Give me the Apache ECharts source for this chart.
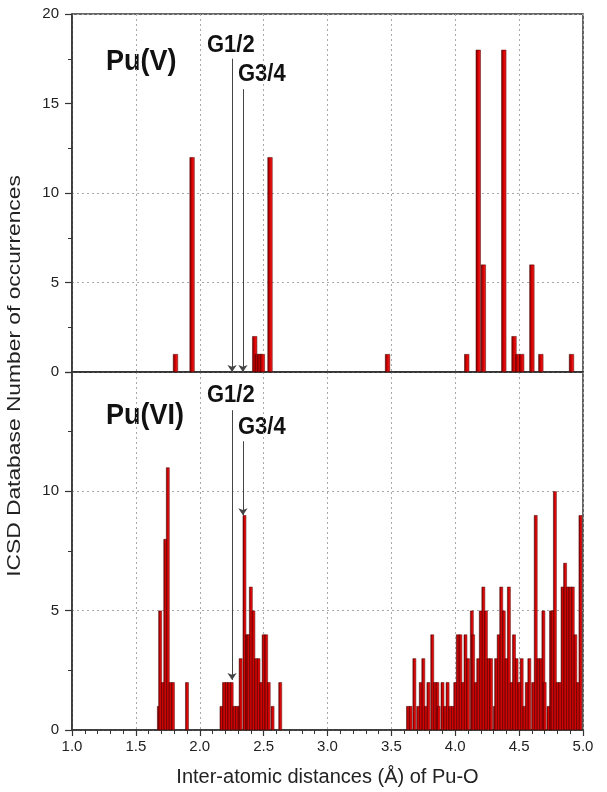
<!DOCTYPE html>
<html>
<head>
<meta charset="utf-8">
<script src="https://cdn.jsdelivr.net/npm/echarts@6/dist/echarts.min.js"></script>
<style>
  html, body { margin: 0; padding: 0; background: #fff; }
  #chart { width: 607px; height: 792px; }
</style>
</head>
<body>
<div id="chart"></div>
<script>
var dom = document.getElementById("chart");
var myChart = echarts.init(dom);

// Pu(V) histogram: bin centre (A) and count
var puVDist = [1.81, 1.94, 2.43, 2.45, 2.47, 2.49, 2.55, 3.47, 4.09, 4.18, 4.22, 4.38, 4.46, 4.49, 4.52, 4.60, 4.67, 4.91];
var puVCount = [1, 12, 2, 1, 1, 1, 12, 1, 1, 18, 6, 18, 2, 1, 1, 6, 1, 1];

// Pu(VI) histogram
var puVIDist = [
    1.68, 1.69, 1.71, 1.73, 1.75, 1.77, 1.79, 1.90,
    2.17, 2.19, 2.21, 2.23, 2.25, 2.27, 2.29, 2.31, 2.32, 2.35, 2.37, 2.38, 2.40, 2.42, 2.44, 2.46, 2.48, 2.50, 2.52, 2.54, 2.57, 2.63,
    3.63, 3.65, 3.68, 3.71, 3.73, 3.75, 3.77, 3.79, 3.82, 3.84, 3.86, 3.87, 3.90, 3.92, 3.94, 3.96, 3.98,
    4.00, 4.02, 4.04, 4.06, 4.08, 4.10, 4.13, 4.14, 4.16, 4.18, 4.20, 4.22, 4.24, 4.26, 4.28, 4.31, 4.32, 4.34, 4.36, 4.38,
    4.40, 4.42, 4.44, 4.46, 4.48, 4.50, 4.52, 4.54, 4.56, 4.58, 4.61, 4.63, 4.65, 4.67, 4.69, 4.70, 4.73, 4.75, 4.76, 4.78,
    4.80, 4.82, 4.84, 4.86, 4.88, 4.90, 4.92, 4.94, 4.96, 4.98
];
var puVICount = [
    1, 5, 2, 8, 11, 2, 2, 2,
    1, 2, 2, 2, 2, 1, 1, 1, 3, 9, 4, 4, 6, 5, 3, 3, 2, 4, 4, 2, 1, 2,
    1, 1, 3, 1, 2, 3, 1, 2, 4, 2, 2, 1, 2, 1, 2, 1, 1,
    2, 4, 4, 2, 4, 3, 5, 4, 2, 3, 5, 6, 5, 3, 3, 1, 3, 4, 6, 5,
    3, 6, 2, 4, 3, 2, 3, 1, 2, 3, 2, 9, 3, 3, 5, 2, 1, 5, 5, 10,
    2, 2, 6, 7, 6, 6, 6, 4, 2, 9
];

var xTicks = { min: 1.0, max: 5.0, interval: 0.5 };
var yTopTicks = { min: 0, max: 20, interval: 5 };
var yBotTicks = { min: 0, max: 15, interval: 5 };

// G1/2, G3/4 arrows: [x, yStart, yEnd]
var arrowsTop = [[2.253, 17.5, 0], [2.338, 15.8, 0]];
var arrowsBot = [[2.253, 13.4, 2.1], [2.338, 12.1, 9.0]];

function pairs(xs, ys) {
    var out = [];
    for (var i = 0; i < xs.length; i++) {
        out.push([xs[i], ys[i]]);
    }
    return out;
}

function arrowLines(list) {
    return list.map(function (a) {
        return [{ coord: [a[0], a[1]] }, { coord: [a[0], a[2]] }];
    });
}

var barColor = new echarts.graphic.LinearGradient(0, 0, 1, 0, [
    { offset: 0, color: "#6a0000" },
    { offset: 0.45, color: "#d00000" },
    { offset: 1, color: "#ff2424" }
]);

var tickFont = { fontFamily: "Liberation Sans", fontSize: 15, color: "#222" };
var dotColor = "#a8a8a8";

function xAxisCfg(idx, showLabels) {
    return {
        type: "value",
        gridIndex: idx,
        min: xTicks.min,
        max: xTicks.max,
        interval: xTicks.interval,
        axisLine: { show: true, onZero: false, lineStyle: { color: "#333", width: 1.5 } },
        axisTick: { show: showLabels, length: 6, lineStyle: { color: "#333", width: 1.2 } },
        minorTick: { show: showLabels, splitNumber: 5, length: 4, lineStyle: { color: "#333" } },
        axisLabel: {
            show: showLabels,
            margin: 9,
            formatter: function (v) { return v.toFixed(1); },
            fontFamily: tickFont.fontFamily, fontSize: tickFont.fontSize, color: tickFont.color
        },
        splitLine: { show: true, lineStyle: { color: dotColor, type: [2, 3], width: 1 } },
        name: showLabels ? "Inter-atomic distances (\u00c5) of Pu-O" : "",
        nameLocation: "middle",
        nameGap: 37,
        nameTextStyle: { fontFamily: "Liberation Sans", fontSize: 20, color: "#222" }
    };
}

function yAxisCfg(idx, t, hideMax, lineColors) {
    return {
        type: "value",
        gridIndex: idx,
        min: t.min,
        max: t.max,
        interval: t.interval,
        axisLine: { show: true, lineStyle: { color: "#333", width: 1.5 } },
        axisTick: { show: true, length: 7, lineStyle: { color: "#333", width: 1.2 } },
        minorTick: { show: true, splitNumber: 2, length: 4, lineStyle: { color: "#333" } },
        axisLabel: {
            margin: 13,
            showMaxLabel: !hideMax,
            fontFamily: tickFont.fontFamily, fontSize: tickFont.fontSize, color: tickFont.color
        },
        splitLine: { show: true, lineStyle: { color: lineColors, type: [2, 3], width: 1 } }
    };
}

function barSeries(idx, data, width, arrows) {
    return {
        type: "bar",
        xAxisIndex: idx,
        yAxisIndex: idx,
        data: data,
        barWidth: width,
        animation: false,
        itemStyle: { color: barColor, borderColor: "#4a0000", borderWidth: 0.5 },
        markLine: {
            silent: true,
            animation: false,
            symbol: ["none", "arrow"],
            symbolSize: 7,
            label: { show: false },
            lineStyle: { color: "#444", type: "solid", width: 1 },
            data: arrowLines(arrows)
        }
    };
}

var gFont = 'bold 22px "Liberation Sans"';
var puFont = 'bold 27px "Liberation Sans"';
var option = {
    backgroundColor: "#fff",
    grid: [
        { left: 72, right: 24, top: 14, height: 358, show: true, borderColor: "#333", borderWidth: 1.5 },
        { left: 72, right: 24, top: 372, height: 358, show: true, borderColor: "#333", borderWidth: 1.5 }
    ],
    xAxis: [xAxisCfg(0, false), xAxisCfg(1, true)],
    yAxis: [
        yAxisCfg(0, yTopTicks, false, [dotColor, dotColor, dotColor, "rgba(0,0,0,0)", dotColor]),
        yAxisCfg(1, yBotTicks, true, dotColor)
    ],
    series: [
        barSeries(0, pairs(puVDist, puVCount), 5, arrowsTop),
        barSeries(1, pairs(puVIDist, puVICount), 3.5, arrowsBot)
    ],
    graphic: [
        { type: "text", x: 15, y: 376, rotation: Math.PI / 2, scaleX: 1.2,
          style: { text: "ICSD Database Number of occurrences", align: "center", verticalAlign: "middle",
                   font: '19px "Liberation Sans"', fill: "#222" } },
        { type: "text", x: 106, y: 47, scaleY: 1.12, style: { text: "Pu(V)", font: puFont, fill: "#111" } },
        { type: "text", x: 207, y: 33, scaleY: 1.12, style: { text: "G1/2", font: gFont, fill: "#111" } },
        { type: "text", x: 238, y: 62, scaleY: 1.12, style: { text: "G3/4", font: gFont, fill: "#111" } },
        { type: "text", x: 106, y: 401, scaleY: 1.12, style: { text: "Pu(VI)", font: puFont, fill: "#111" } },
        { type: "text", x: 207, y: 383, scaleY: 1.12, style: { text: "G1/2", font: gFont, fill: "#111" } },
        { type: "text", x: 238, y: 415, scaleY: 1.12, style: { text: "G3/4", font: gFont, fill: "#111" } }
    ]
};
myChart.setOption(option);
</script>
</body>
</html>
